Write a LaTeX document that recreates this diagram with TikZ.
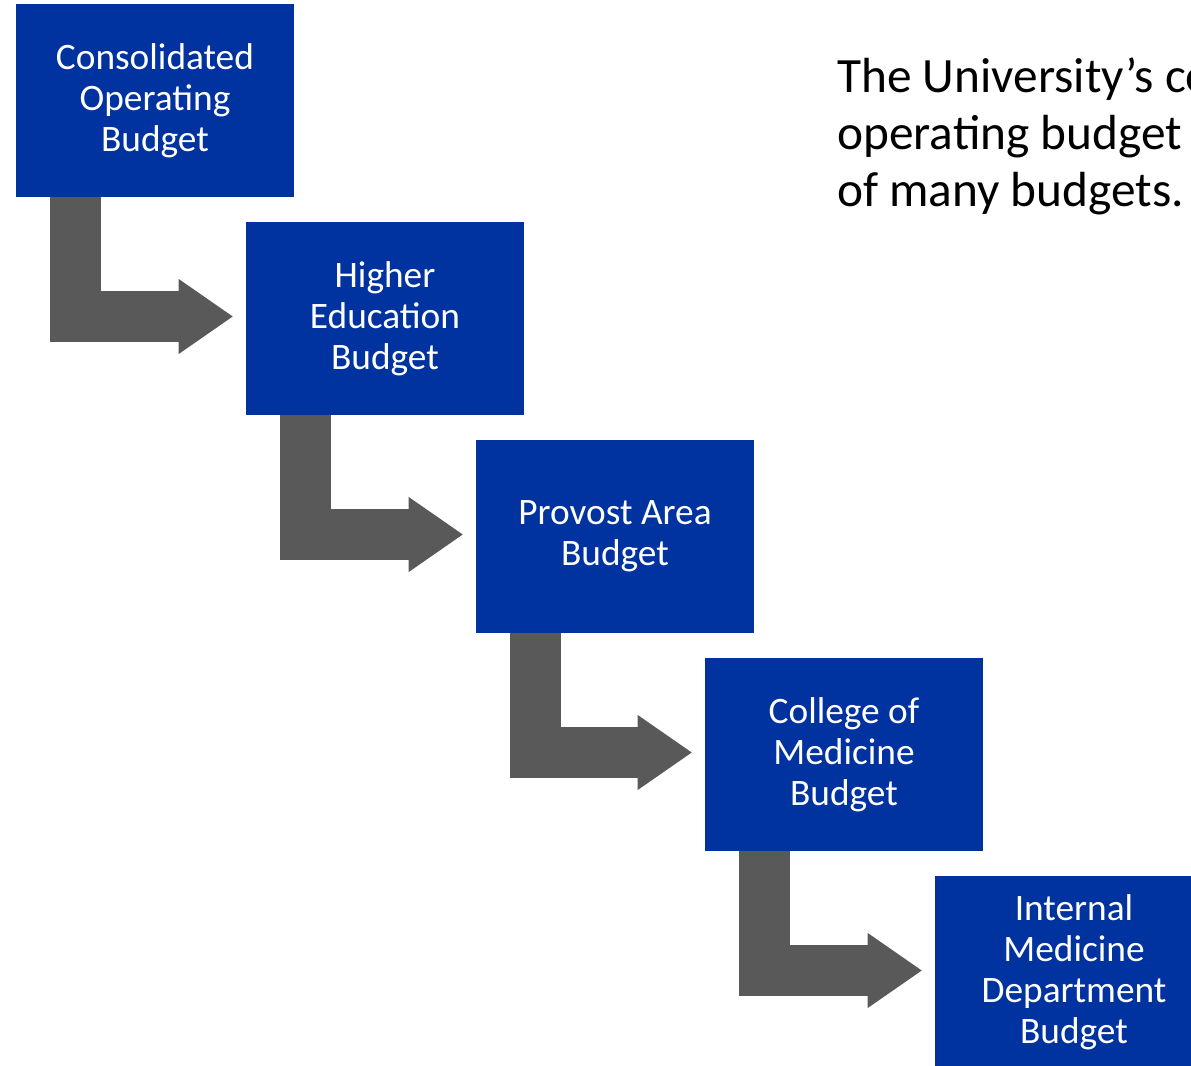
\documentclass[tikz,border=0pt]{standalone}
\usepackage{fontspec}
\setmainfont{Carlito}
\usepackage{xcolor}
\usetikzlibrary{arrows.meta,calc}

\definecolor{ukblue}{HTML}{0033A0}
\definecolor{flowgray}{HTML}{595959}

\begin{document}
\begin{tikzpicture}[
      x=0.75pt, y=-0.75pt,
      budget/.style={rectangle, fill=ukblue, text=white, minimum width=208.5pt, minimum height=144.75pt, inner sep=0pt, align=center, font=\fontsize{28}{30.75}\selectfont},
      elbow/.style={draw=flowgray, line width=38.25pt, -{Triangle[length=40.5pt, width=56.25pt, line width=0pt]}}
    ]
      \useasboundingbox (0,0) rectangle (1191,1066);
      \clip (0,0) rectangle (1191,1066);

      % Budget levels
      \node[budget] (budget1) at (155,100.5) {Consolidated\\Operating\\Budget};
      \node[budget] (budget2) at (385,318.5) {Higher\\Education\\Budget};
      \node[budget] (budget3) at (615,536.5) {Provost Area\\Budget};
      \node[budget] (budget4) at (844,754.5) {College of\\Medicine\\Budget};
      \node[budget] (budget5) at (1074,972.5) {Internal\\Medicine\\Department\\Budget};

      % Elbow arrows
      \draw[elbow] ($(budget1.south west)+(59.5,0)$) |- ($(budget2.west)+(-13,-2)$);
      \draw[elbow] ($(budget2.south west)+(59.5,0)$) |- ($(budget3.west)+(-13,-2)$);
      \draw[elbow] ($(budget3.south west)+(59.5,0)$) |- ($(budget4.west)+(-13,-2)$);
      \draw[elbow] ($(budget4.south west)+(59.5,0)$) |- ($(budget5.west)+(-13,-2)$);

      % Intro text
      \node[anchor=north west, inner sep=0pt, align=left, font=\fontsize{37}{42.75}\selectfont] (intro) at (837,57)
        {The University’s co\\operating budget\\of many budgets.};

    \end{tikzpicture}
\end{document}
